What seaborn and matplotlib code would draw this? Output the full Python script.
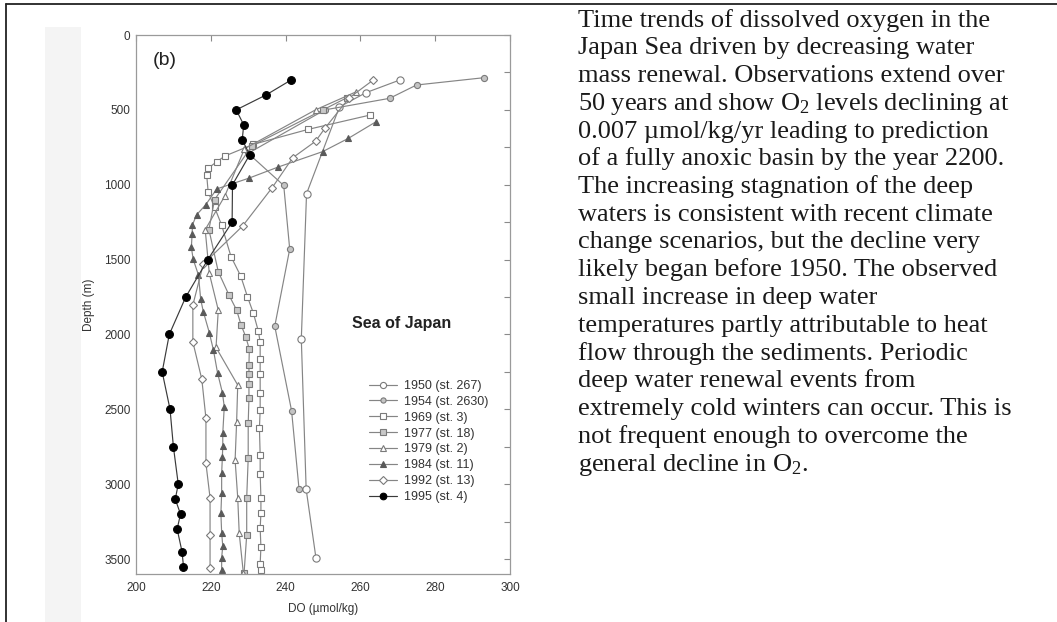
import matplotlib
matplotlib.use("Agg")
import matplotlib.pyplot as plt
from matplotlib.lines import Line2D
from matplotlib.patches import Rectangle
from matplotlib.ticker import MultipleLocator
import numpy as np
import pandas as pd
import seaborn as sns

# Dissolved oxygen profiles (DO in umol/kg vs depth in m), Sea of Japan stations
depth_1950 = [300, 385, 480, 1060, 2030, 3035, 3490]
do_1950 = [270.6, 261.5, 254.4, 245.6, 244.2, 245.5, 248.1]

depth_1954 = [285, 334, 423, 500, 790, 1005, 1430, 1945, 2510, 3035]
do_1954 = [293.1, 275.0, 267.8, 250.5, 230.0, 239.5, 241.1, 237.1, 241.6, 243.6]

depth_1969 = [534, 630, 730, 808, 846, 890, 935, 1050, 1150, 1270, 1480, 1610,
              1748, 1859, 1977, 2050, 2167, 2265, 2394, 2505, 2627, 2806, 2933,
              3091, 3195, 3296, 3419, 3534, 3574]
do_1969 = [262.7, 246.1, 231.4, 223.8, 221.6, 219.3, 218.9, 219.3, 221.0, 222.9,
           225.4, 228.0, 229.8, 231.4, 232.7, 233.2, 233.2, 233.2, 233.2, 233.2,
           233.0, 233.2, 233.2, 233.4, 233.4, 233.2, 233.4, 233.2, 233.3]

depth_1977 = [420, 500, 740, 1100, 1300, 1581, 1739, 1837, 1937, 2019, 2100,
              2204, 2265, 2334, 2427, 2594, 2828, 3091, 3340, 3592]
do_1977 = [256.3, 250.0, 231.0, 221.0, 219.5, 222.0, 224.9, 226.9, 228.1, 229.4,
           230.3, 230.2, 230.2, 230.2, 230.2, 230.0, 230.0, 229.6, 229.6, 228.9]

depth_1979 = [380, 500, 760, 1073, 1300, 1592, 1837, 2087, 2338, 2587, 2839,
              3091, 3329, 3592]
do_1979 = [258.8, 248.0, 229.0, 223.8, 218.5, 219.6, 222.0, 221.4, 227.2, 226.9,
           226.5, 227.2, 227.6, 228.7]

depth_1984 = [579, 690, 779, 882, 957, 1028, 1135, 1201, 1268, 1330, 1419, 1499,
              1603, 1766, 1848, 1988, 2104, 2256, 2389, 2483, 2661, 2743, 2817,
              2928, 3062, 3195, 3324, 3413, 3492, 3574]
do_1984 = [264.2, 256.8, 249.9, 238.0, 230.1, 221.6, 218.6, 216.2, 215.1, 215.0,
           214.8, 215.3, 216.7, 217.3, 218.0, 219.6, 220.7, 221.8, 223.1, 223.6,
           223.2, 223.2, 223.1, 222.9, 222.9, 222.7, 222.9, 223.2, 222.9, 222.9]

depth_1992 = [303, 420, 620, 710, 820, 1020, 1276, 1530, 1804, 2050, 2300, 2560,
              2861, 3091, 3340, 3562]
do_1992 = [263.3, 257.0, 250.6, 248.0, 241.9, 236.4, 228.5, 218.0, 215.2, 215.2,
           217.6, 218.7, 218.7, 219.8, 219.8, 219.8]

depth_1995 = [300, 400, 500, 600, 700, 800, 1000, 1250, 1500, 1750, 2000, 2250,
              2500, 2750, 3000, 3100, 3200, 3300, 3450, 3550]
do_1995 = [241.5, 234.8, 226.8, 228.8, 228.4, 230.4, 225.8, 225.7, 219.2, 213.3,
           208.9, 207.0, 209.1, 210.0, 211.3, 210.5, 211.9, 211.0, 212.3, 212.7]

series_labels = ["1950 (st. 267)", "1954 (st. 2630)", "1969 (st. 3)", "1977 (st. 18)",
                 "1979 (st. 2)", "1984 (st. 11)", "1992 (st. 13)", "1995 (st. 4)"]
series_depths = [depth_1950, depth_1954, depth_1969, depth_1977,
                 depth_1979, depth_1984, depth_1992, depth_1995]
series_do = [do_1950, do_1954, do_1969, do_1977, do_1979, do_1984, do_1992, do_1995]

caption_lines = [
    "Time trends of dissolved oxygen in the",
    "Japan Sea driven by decreasing water",
    "mass renewal. Observations extend over",
    "50 years and show O$_2$ levels declining at",
    "0.007 \u00b5mol/kg/yr leading to prediction",
    "of a fully anoxic basin by the year 2200.",
    "The increasing stagnation of the deep",
    "waters is consistent with recent climate",
    "change scenarios, but the decline very",
    "likely began before 1950. The observed",
    "small increase in deep water",
    "temperatures partly attributable to heat",
    "flow through the sediments. Periodic",
    "deep water renewal events from",
    "extremely cold winters can occur. This is",
    "not frequent enough to overcome the",
    "general decline in O$_2$.",
]

sns.set_theme(style="white")
plt.rcParams["font.family"] = ["Liberation Sans", "DejaVu Sans"]
plt.rcParams["mathtext.fontset"] = "custom"
plt.rcParams["mathtext.rm"] = "Liberation Serif"
plt.rcParams["mathtext.it"] = "Liberation Serif:italic"

frames = []
for lab, d, v in zip(series_labels, series_depths, series_do):
    frames.append(pd.DataFrame({"series": lab, "depth": d, "do": v,
                                "order": np.arange(len(d))}))
df = pd.concat(frames, ignore_index=True)

LINE = "#858585"
EDGE = "#7a7a7a"
styles = {
    "1950 (st. 267)": dict(marker="o", ms=5.2, mfc="white", mec=EDGE, color=LINE),
    "1954 (st. 2630)": dict(marker="o", ms=4.4, mfc="#c4c4c4", mec=EDGE, color=LINE),
    "1969 (st. 3)": dict(marker="s", ms=4.6, mfc="white", mec=EDGE, color=LINE),
    "1977 (st. 18)": dict(marker="s", ms=4.4, mfc="#c8c8c8", mec=EDGE, color=LINE),
    "1979 (st. 2)": dict(marker="^", ms=5.0, mfc="white", mec=EDGE, color=LINE),
    "1984 (st. 11)": dict(marker="^", ms=5.0, mfc="#5a5a5a", mec="#5a5a5a", color=LINE),
    "1992 (st. 13)": dict(marker="D", ms=4.3, mfc="white", mec=EDGE, color=LINE),
    "1995 (st. 4)": dict(marker="o", ms=5.6, mfc="black", mec="black", color="#3a3a3a"),
}

W, H = 1057, 622
fig = plt.figure(figsize=(W / 100, H / 100), dpi=100)

# faint band from the scanned figure and the page frame lines
fig.patches.append(Rectangle((45 / W, 0), 36 / W, 1 - 27 / H, transform=fig.transFigure,
                             facecolor="#f4f4f4", edgecolor="none", zorder=-5))
fig.add_artist(Line2D([5.5 / W, 1], [1 - 4 / H, 1 - 4 / H], color="#222222", lw=1.3))
fig.add_artist(Line2D([5.5 / W, 5.5 / W], [0, 1 - 4 / H], color="#222222", lw=1.3))

ax = fig.add_axes([136 / W, 1 - 574 / H, (510 - 136) / W, (574 - 35) / H])
ax.set_zorder(2)

handles = []
for lab in series_labels:
    sub = df[df["series"] == lab].sort_values("order")
    st = styles[lab]
    sns.lineplot(data=sub, x="do", y="depth", sort=False, estimator=None, ax=ax,
                 color=st["color"], lw=0.85, marker=st["marker"], markersize=st["ms"],
                 markerfacecolor=st["mfc"], markeredgecolor=st["mec"],
                 markeredgewidth=0.8, legend=False)
    handles.append(Line2D([], [], color=st["color"], lw=0.85, marker=st["marker"],
                          markersize=st["ms"] * 0.85, markerfacecolor=st["mfc"],
                          markeredgecolor=st["mec"], markeredgewidth=0.8, label=lab))

ax.set_xlim(200, 300)
ax.set_ylim(3600, 0)
ax.xaxis.set_major_locator(MultipleLocator(20))
ax.yaxis.set_major_locator(MultipleLocator(500))
ax.yaxis.set_minor_locator(MultipleLocator(250))
ax.tick_params(axis="both", which="both", direction="in", top=True, right=True,
               color="#8a8a8a", width=0.8, labelsize=8.5, labelcolor="#333333")
ax.tick_params(which="major", length=4)
ax.tick_params(which="minor", length=4)
ax.tick_params(axis="x", pad=6)
ax.tick_params(axis="y", pad=4)
for sp in ax.spines.values():
    sp.set_color("#9a9a9a")
    sp.set_linewidth(0.9)
ax.set_xlabel("DO (\u00b5mol/kg)", fontsize=8.5, color="#333333", labelpad=6)
ax.set_ylabel("Depth (m)", fontsize=8.5, color="#333333")
ax.yaxis.set_label_coords(-0.11, 0.5)

ax.text(204.5, 170, "(b)", fontsize=14, color="#222222", va="center", ha="left")
ax.text(257.8, 1924, "Sea of Japan", fontsize=11.5, fontweight="bold", color="#222222",
        va="center", ha="left")

leg = ax.legend(handles=handles, loc="upper left", bbox_to_anchor=(0.622, 0.36),
                frameon=False, fontsize=9, handlelength=2.3, handletextpad=0.5,
                labelspacing=0.31, borderaxespad=0, borderpad=0)
for t in leg.get_texts():
    t.set_color("#333333")

# caption block on the right
for i, line in enumerate(caption_lines):
    y = 26.5 + 27.75 * i
    fig.text(578 / W, 1 - y / H, line, fontsize=19, family="Liberation Serif",
             color="#1a1a1a", va="baseline", ha="left")

fig.savefig("out.png", dpi=100, facecolor="white")
